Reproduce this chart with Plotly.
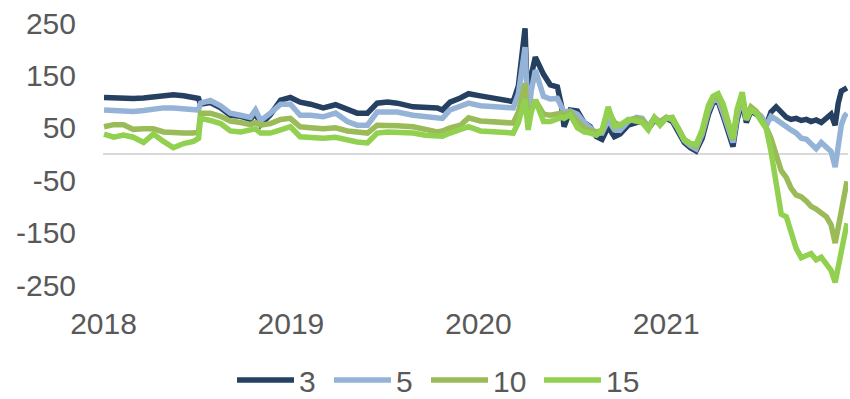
import plotly.graph_objects as go

# Observation dates (irregular spacing, denser around sharp moves)
dates = [
    "2018-01-02", "2018-01-21", "2018-02-09", "2018-02-28", "2018-03-20", "2018-04-08",
    "2018-04-28", "2018-05-17", "2018-06-06", "2018-06-25", "2018-07-05", "2018-07-09",
    "2018-07-28", "2018-08-17", "2018-09-05", "2018-09-25", "2018-10-14", "2018-10-24",
    "2018-11-03", "2018-11-22", "2018-12-12", "2018-12-31", "2019-01-19", "2019-02-08",
    "2019-03-05", "2019-03-29", "2019-04-21", "2019-05-10", "2019-05-30", "2019-06-18",
    "2019-07-08", "2019-07-27", "2019-08-27", "2019-09-20", "2019-10-13", "2019-10-23",
    "2019-11-07", "2019-11-27", "2019-12-13", "2020-01-05", "2020-01-30", "2020-02-23",
    "2020-03-09", "2020-03-19", "2020-03-27", "2020-04-01", "2020-04-07", "2020-04-13",
    "2020-04-21", "2020-05-07", "2020-05-20", "2020-06-03", "2020-06-11", "2020-06-16",
    "2020-06-28", "2020-07-12", "2020-07-25", "2020-08-06", "2020-08-18", "2020-08-29",
    "2020-09-10", "2020-09-22", "2020-10-03", "2020-10-19", "2020-11-04", "2020-11-15",
    "2020-11-27", "2020-12-09", "2020-12-20", "2021-01-01", "2021-01-13", "2021-01-24",
    "2021-02-05", "2021-02-17", "2021-02-28", "2021-03-12", "2021-03-24", "2021-04-02",
    "2021-04-12", "2021-04-22", "2021-05-02", "2021-05-11", "2021-05-19", "2021-05-29",
    "2021-06-06", "2021-06-15", "2021-06-25", "2021-07-05", "2021-07-15", "2021-07-24",
    "2021-08-03", "2021-08-13", "2021-08-23", "2021-09-01", "2021-09-11", "2021-09-21",
    "2021-10-01", "2021-10-10", "2021-10-20", "2021-10-30", "2021-11-09", "2021-11-18",
    "2021-11-26", "2021-12-02", "2021-12-08", "2021-12-14", "2021-12-19",
]

tenor_3 = [
    108, 107, 107, 106, 107, 109, 112, 113, 111, 108, 106, 95,
    98, 88, 74, 72, 66, 78, 56, 75, 103, 108, 99, 95,
    88, 94, 84, 78, 78, 97, 99, 97, 90, 89, 88, 84,
    99, 107, 115, 111, 107, 103, 100, 130, 195, 240, 58, 150,
    185, 152, 132, 128, 92, 52, 84, 82, 60, 52, 33, 28,
    52, 33, 38, 55, 60, 62, 48, 65, 58, 68, 62, 45,
    22, 12, 6, 30, 75, 98, 100, 72, 40, 14, 65, 100,
    60, 82, 76, 70, 55, 80, 90, 78, 70, 66, 68, 64,
    66, 62, 65, 60, 70, 76, 55, 97, 120, 124, 126,
]

tenor_5 = [
    84, 83, 82, 81, 83, 86, 88, 88, 86, 85, 84, 97,
    102, 92, 78, 74, 70, 84, 64, 78, 95, 95, 74, 74,
    71, 78, 62, 55, 55, 80, 80, 80, 74, 72, 71, 68,
    84, 90, 97, 92, 90, 88, 88, 115, 165, 204, 66, 120,
    160, 110, 105, 106, 90, 80, 82, 76, 60, 50, 40, 40,
    65, 46, 45, 62, 70, 68, 52, 68, 62, 70, 65, 48,
    26, 16, 10, 38, 82, 102, 105, 78, 46, 22, 72, 106,
    66, 86, 80, 72, 55, 72, 66, 58, 52, 46, 40, 30,
    28, 18, 10, 22, 12, 5, -25, 20, 55, 72, 78,
]

tenor_10 = [
    52, 56, 56, 47, 48, 48, 42, 40, 40, 40, 42, 78,
    78, 72, 63, 60, 56, 60, 55, 58, 66, 68, 52, 50,
    48, 50, 44, 42, 40, 55, 55, 54, 52, 48, 42, 44,
    50, 55, 69, 63, 61, 60, 59, 80, 110, 135, 55, 85,
    103, 76, 74, 76, 78, 74, 80, 62, 50, 45, 42, 45,
    84, 60, 55, 65, 68, 66, 50, 70, 60, 70, 66, 50,
    28, 20, 15, 42, 88, 106, 110, 88, 52, 28, 80, 112,
    70, 90, 82, 68, 50, 30, 0, -32, -45, -65, -78, -82,
    -90, -100, -105, -112, -120, -135, -170, -140, -110, -70, -52,
]

tenor_15 = [
    38, 32, 36, 32, 22, 38, 24, 12, 20, 24, 30, 68,
    64, 58, 44, 42, 46, 48, 40, 40, 46, 52, 33, 32,
    30, 32, 26, 23, 21, 40, 42, 41, 40, 36, 33, 34,
    40, 46, 52, 44, 42, 40, 40, 60, 90, 105, 46, 80,
    103, 62, 62, 68, 70, 68, 75, 50, 42, 40, 36, 45,
    90, 52, 55, 66, 62, 60, 46, 69, 55, 68, 70, 48,
    27, 20, 18, 46, 92, 110, 115, 95, 55, 30, 85, 118,
    65, 84, 78, 62, 48, 5, -50, -115, -120, -150, -180, -198,
    -195, -190, -202, -197, -210, -222, -245, -215, -190, -150, -132,
]

year_ticks = ["2018-01-01", "2019-01-01", "2020-01-01", "2021-01-01"]
year_labels = ["2018", "2019", "2020", "2021"]
y_ticks = [-250, -150, -50, 50, 150, 250]
y_labels = ["-250", "-150", "-50", "50", "150", "250"]

series = [
    ("3", tenor_3, "#254061"),
    ("5", tenor_5, "#95B3D7"),
    ("10", tenor_10, "#9BBB59"),
    ("15", tenor_15, "#92D050"),
]

# Left edge (px) of each legend entry along the bottom row
legend_left_px = [232, 329, 426, 539]
legend_mid_px = 380

text_color = "#595959"
font_family = "Liberation Sans, Arial, sans-serif"

fig = go.Figure()
legend_layouts = {}
for i, (name, values, color) in enumerate(series):
    legend_id = "legend" if i == 0 else f"legend{i + 1}"
    fig.add_trace(go.Scatter(
        x=dates, y=values, name=name, mode="lines",
        line=dict(color=color, width=5.5),
        legend=legend_id,
    ))
    legend_layouts[legend_id] = dict(
        orientation="h", xref="container", yref="container",
        x=legend_left_px[i] / 850, xanchor="left",
        y=1 - legend_mid_px / 399, yanchor="middle",
        itemwidth=57, font=dict(size=30, color=text_color, family=font_family),
        bgcolor="rgba(0,0,0,0)",
    )

fig.update_layout(
    width=850, height=399,
    margin=dict(l=103, r=2, t=23, b=114),
    paper_bgcolor="white", plot_bgcolor="white",
    font=dict(family=font_family, size=30, color=text_color),
    showlegend=True,
    xaxis=dict(
        type="date", range=["2017-12-31", "2021-12-21"],
        tickvals=year_ticks, ticktext=year_labels,
        showgrid=False, zeroline=False, showline=False, ticks="",
        ticklabelstandoff=18, automargin=False,
        tickfont=dict(size=30, color=text_color),
    ),
    yaxis=dict(
        range=[-250, 250], tickvals=y_ticks, ticktext=y_labels,
        showgrid=False, showline=False, ticks="",
        zeroline=True, zerolinecolor="#D9D9D9", zerolinewidth=2,
        ticklabelstandoff=26, automargin=False,
        tickfont=dict(size=30, color=text_color),
    ),
    **legend_layouts,
)

fig.write_html("out.html")
